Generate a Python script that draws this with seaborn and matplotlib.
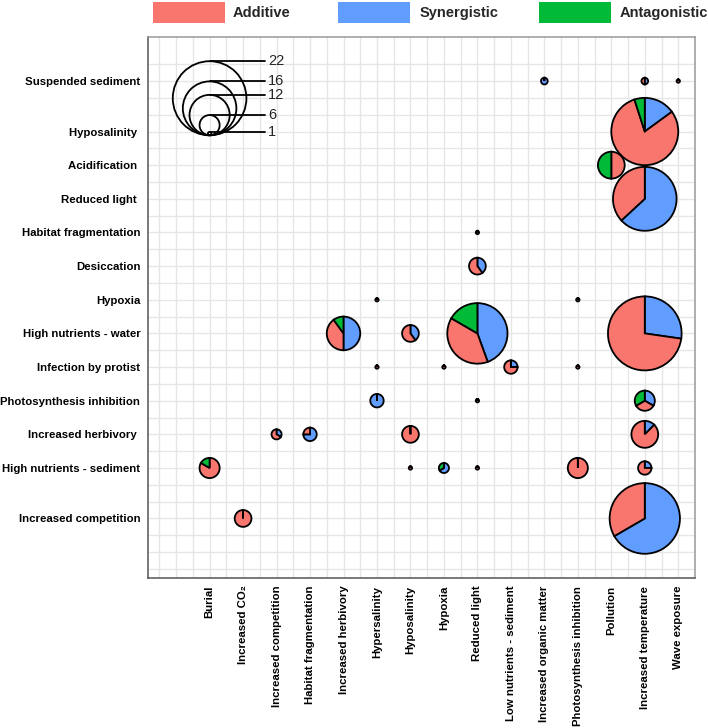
"""
Interaction type pies: stressor pairs (x = second stressor, y = first stressor).
Pie size scales with number of cases, slices split by interaction type.
"""

import matplotlib
matplotlib.use('Agg')
import matplotlib.pyplot as plt
from matplotlib.patches import Wedge, Circle, Rectangle
import numpy as np
import pandas as pd
import seaborn as sns

sns.set_style('whitegrid')
plt.rcParams['font.family'] = ['Liberation Sans', 'DejaVu Sans']

# axis categories
X_LABELS = ['', 'Burial', 'Increased CO₂', 'Increased competition', 'Habitat fragmentation',
            'Increased herbivory', 'Hypersalinity', 'Hyposalinity', 'Hypoxia', 'Reduced light',
            'Low nutrients - sediment', 'Increased organic matter', 'Photosynthesis inhibition',
            'Pollution', 'Increased temperature', 'Wave exposure']
Y_LABELS = ['Suspended sediment', 'Hyposalinity ', 'Acidification ', 'Reduced light ',
            'Habitat fragmentation', 'Desiccation', 'Hypoxia', 'High nutrients - water',
            'Infection by protist', 'Photosynthesis inhibition', 'Increased herbivory ',
            'High nutrients - sediment', 'Increased competition']
Y_POS = [15.5, 14, 13, 12, 11, 10, 9, 8, 7, 6, 5, 4, 2.5]

# pie data (counts per interaction type)
pie_row = ['Suspended sediment', 'Suspended sediment', 'Suspended sediment',
           'Hyposalinity ', 'Acidification ', 'Reduced light ', 'Habitat fragmentation',
           'Desiccation', 'Hypoxia', 'Hypoxia',
           'High nutrients - water', 'High nutrients - water', 'High nutrients - water',
           'High nutrients - water',
           'Infection by protist', 'Infection by protist', 'Infection by protist',
           'Infection by protist',
           'Photosynthesis inhibition', 'Photosynthesis inhibition', 'Photosynthesis inhibition',
           'Increased herbivory ', 'Increased herbivory ', 'Increased herbivory ',
           'Increased herbivory ',
           'High nutrients - sediment', 'High nutrients - sediment', 'High nutrients - sediment',
           'High nutrients - sediment', 'High nutrients - sediment', 'High nutrients - sediment',
           'Increased competition', 'Increased competition']
pie_col = ['Increased organic matter', 'Increased temperature', 'Wave exposure',
           'Increased temperature', 'Pollution', 'Increased temperature', 'Reduced light',
           'Reduced light', 'Hypersalinity', 'Photosynthesis inhibition',
           'Increased herbivory', 'Hyposalinity', 'Reduced light', 'Increased temperature',
           'Hypersalinity', 'Hypoxia', 'Low nutrients - sediment', 'Photosynthesis inhibition',
           'Hypersalinity', 'Reduced light', 'Increased temperature',
           'Increased competition', 'Habitat fragmentation', 'Hyposalinity',
           'Increased temperature',
           'Burial', 'Hyposalinity', 'Hypoxia', 'Reduced light', 'Photosynthesis inhibition',
           'Increased temperature',
           'Increased CO₂', 'Increased temperature']
additive = [0, 1, 1, 16, 4, 7, 1, 3, 1, 1, 4, 3, 7, 16, 1, 1, 3, 1, 0, 1, 2,
            2, 1, 5, 7, 5, 1, 0, 1, 6, 3, 5, 7]
synergistic = [2, 1, 0, 3, 0, 12, 0, 2, 0, 0, 5, 2, 8, 6, 0, 0, 1, 0, 4, 0, 2,
               1, 3, 0, 1, 0, 0, 2, 0, 0, 1, 0, 14]
antagonistic = [0, 0, 0, 1, 4, 0, 0, 0, 0, 0, 1, 0, 3, 0, 0, 0, 0, 0, 0, 0, 2,
                0, 0, 0, 0, 1, 0, 1, 0, 0, 0, 0, 0]

LEGEND_N = [1, 6, 12, 16, 22]

COLORS = {'Additive': '#F8766D', 'Synergistic': '#619CFF', 'Antagonistic': '#00BA38'}
R_SCALE = 0.05  # radius per case, data units

df = pd.DataFrame({'row': pie_row, 'col': pie_col, 'Additive': additive,
                   'Synergistic': synergistic, 'Antagonistic': antagonistic})
df['x'] = df['col'].map({k: i for i, k in enumerate(X_LABELS)})
df['y'] = df['row'].map(dict(zip(Y_LABELS, Y_POS)))
df['n'] = df[['Additive', 'Synergistic', 'Antagonistic']].sum(axis=1)

fig = plt.figure(figsize=(7.08, 7.28), dpi=100)
ax = fig.add_axes([148 / 708, 1 - 578 / 728, 547 / 708, 541 / 728])
ax.set_xlim(-0.84, 15.5)
ax.set_ylim(0.73, 16.81)

# grid
ax.set_xticks(range(len(X_LABELS)))
ax.set_xticks(np.arange(-0.5, 15.6, 0.5), minor=True)
yt = np.arange(1, 16.01, 0.5)
ax.set_yticks(yt)
lab = dict(zip(Y_POS, Y_LABELS))
ax.set_yticklabels([lab.get(v, '') for v in yt], fontweight='bold', fontsize=8.2)
ax.set_xticklabels(X_LABELS, rotation=90, fontweight='bold', fontsize=8.2)
ax.grid(which='both', color='#E6E6E6', lw=1.0)
ax.tick_params(which='major', length=3.5, width=0.9, color='#333333', pad=2, labelcolor='black')
ax.tick_params(which='minor', length=0)
ax.set_axisbelow(True)
for s in ['left', 'bottom']:
    ax.spines[s].set_color('#555555')
for s in ['top', 'right']:
    ax.spines[s].set_color('#999999')
for s in ax.spines.values():
    s.set_linewidth(1.1)

# pies, clockwise from 12 o'clock: synergistic, additive, antagonistic
order = ['Synergistic', 'Additive', 'Antagonistic']
for _, p in df.iterrows():
    r = p['n'] * R_SCALE
    start = 0.0
    parts = [k for k in order if p[k] > 0]
    for k in parts:
        frac = p[k] / p['n']
        t2 = 90 - 360 * start
        t1 = 90 - 360 * (start + frac)
        if len(parts) == 1:
            t1 = t2 - 359.99
        ax.add_patch(Wedge((p['x'], p['y']), r, t1, t2, facecolor=COLORS[k],
                           edgecolor='black', lw=1.3, zorder=3))
        start += frac

# size legend
lx, ly = 1, 13.89
max_r = max(LEGEND_N) * R_SCALE
for n in LEGEND_N:
    r = n * R_SCALE
    ax.add_patch(Circle((lx, ly + r), r, fill=False, edgecolor='black', lw=1.3, zorder=4))
    ax.plot([lx, lx + 1.5 * max_r], [ly + 2 * r] * 2, color='black', lw=1.3, zorder=4)
    ax.text(lx + 1.5 * max_r + 0.1, ly + 2 * r, str(n), fontsize=10.5, va='center', ha='left')

# colour legend on top
leg = [('Additive', 153, 233), ('Synergistic', 338, 420), ('Antagonistic', 539, 620)]
for name, rx, tx in leg:
    fig.add_artist(Rectangle((rx / 708, 1 - 23 / 728), 72 / 708, 21 / 728,
                             transform=fig.transFigure, facecolor=COLORS[name], edgecolor='none'))
    fig.text(tx / 708, 1 - 13 / 728, name, fontsize=10.5, fontweight='bold', va='center', ha='left')

fig.savefig('out.png', dpi=100)
